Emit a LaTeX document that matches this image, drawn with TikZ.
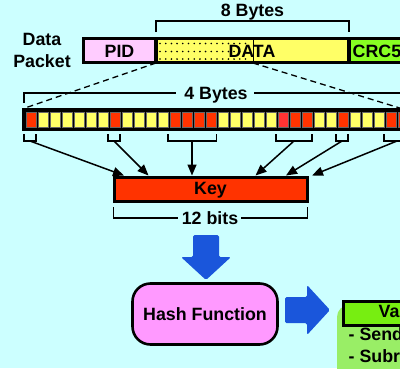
\documentclass[tikz,border=0pt]{standalone}
\usepackage{fontspec}
\setmainfont{Liberation Sans}
\usetikzlibrary{arrows.meta}
\definecolor{bg}{HTML}{CCFFFF}
\definecolor{pidpink}{HTML}{FFCCFF}
\definecolor{datayel}{HTML}{FFFF66}
\definecolor{crcgreen}{HTML}{88FF22}
\definecolor{bitred}{HTML}{FF3300}
\definecolor{bitred2}{HTML}{FF3333}
\definecolor{hashpink}{HTML}{FF99FF}
\definecolor{arrowblue}{HTML}{1A56DB}
\definecolor{hdrgreen}{HTML}{77EE11}
\definecolor{lightgreen}{HTML}{99EE66}
\begin{document}
\begin{tikzpicture}[x=1pt,y=-1pt,
  lbl/.style={font=\bfseries\fontsize{17.8}{21}\selectfont, inner sep=0pt, anchor=base},
  thickborder/.style={line width=3pt},
  bracket/.style={line width=1.5pt},
  keyarrow/.style={line width=1.5pt, -{Triangle[length=11pt,width=9pt]}},
  dashline/.style={line width=1.3pt, dash pattern=on 6pt off 4pt},
  bigarrow/.style={fill=arrowblue, rounded corners=1.5pt}]
\useasboundingbox (0,0) rectangle (400,368);
\clip (0,0) rectangle (400,368);
\fill[bg] (0,0) rectangle (400,368);

% ---- data packet ----
\node[lbl] (lblData) at (42,45.8) {Data};
\node[lbl] (lblPacket) at (42,67.3) {Packet};
\fill[pidpink] (83,38) rectangle (156,62);
\fill[datayel] (156,38) rectangle (349,62);
\fill[crcgreen] (349,38) rectangle (412,62);
\foreach \y in {43.5,51.5,59} {
  \foreach \x in {160,165.7,...,251} {
    \fill[black] (\x,\y) circle (0.9pt);
  }
}
\draw[line width=0.9pt] (253,38) -- (253,62);
\draw[thickborder] (83,38) rectangle (412,62);
\draw[line width=3.2pt] (156,38) -- (156,62);
\draw[line width=3.2pt] (349,38) -- (349,62);
\node[lbl] (pid) at (119.5,57.3) {PID};
\node[lbl] (data) at (252,57.3) {DATA};
\node[lbl, anchor=base west] (crc) at (352.5,57.3) {CRC5};

% 8 Bytes bracket
\coordinate (b8l) at (156,32);
\coordinate (b8r) at (349,32);
\draw[bracket] (b8l) -- (156,21) -- (349,21) -- (b8r);
\node[lbl] (bytes8) at (252.5,16.3) {8 Bytes};

% ---- bits row ----
\fill[black] (22,108) rectangle (412,131);
\foreach \i in {0,...,31} {
  \pgfmathsetmacro{\xl}{25.7+12*\i}
  \fill[datayel, draw=black!60, line width=0.4pt] (\xl,112.3) rectangle ++(10.6,14.4);
}
\foreach \i in {0,7,12,13,14,15,22,23,26,30,31} {
  \pgfmathsetmacro{\xl}{25.7+12*\i}
  \fill[bitred, draw=black!60, line width=0.4pt] (\xl,112.3) rectangle ++(10.6,14.4);
}
\fill[bitred2, draw=black!60, line width=0.4pt] (277.7,112.3) rectangle ++(10.6,14.4);

% dashed zoom lines
\coordinate (dl0) at (156,63);
\coordinate (dl1) at (25,108);
\coordinate (dr0) at (253,63);
\coordinate (dr1) at (403,109);
\draw[dashline] (dl0) -- (dl1);
\draw[dashline] (dr0) -- (dr1);

% 4 Bytes bracket
\node[lbl] (bytes4) at (216,99) {4 Bytes};
\draw[bracket] (24,103) -- (24,93) -- (176,93);
\draw[bracket] (254,93) -- (412,93);

% ---- key ----
\node[draw=black, fill=bitred, line width=3pt, minimum width=193pt, minimum height=24pt, inner sep=0pt] (key) at (210.5,189) {};
\node[lbl] (keytxt) at (210.5,194.5) {Key};

% bit brackets
\draw[bracket] (24,134) -- (24,141) -- (36,141) -- (36,134);
\draw[bracket] (108,134) -- (108,141) -- (120,141) -- (120,134);
\draw[bracket] (168,134) -- (168,141) -- (216.5,141) -- (216.5,134);
\draw[bracket] (276,134) -- (276,141) -- (312,141) -- (312,134);
\draw[bracket] (336,134) -- (336,141) -- (348,141) -- (348,134);
\draw[bracket] (384,134) -- (384,141) -- (412,141);
\coordinate (g0) at (30,141);
\coordinate (g1) at (114,141);
\coordinate (g2) at (192,141);
\coordinate (g3) at (294,141);
\coordinate (g4) at (342,141);
\coordinate (g5) at (397,141);
\draw[keyarrow] (g0) -- ([xshift=-86.5pt]key.north);
\draw[keyarrow] (g1) -- ([xshift=-62pt]key.north);
\draw[keyarrow] (g2) -- ([xshift=-18.5pt]key.north);
\draw[keyarrow] (g3) -- ([xshift=45pt]key.north);
\draw[keyarrow] (g4) -- ([xshift=75.5pt]key.north);
\draw[keyarrow] (g5) -- ([xshift=101.5pt]key.north);

% 12 bits bracket
\node[lbl] (bits12) at (210,224.2) {12 bits};
\draw[bracket] (113.5,207) -- (113.5,218) -- (178,218);
\draw[bracket] (241,218) -- (307.5,218) -- (307.5,207);

% ---- blue down arrow ----
\path[bigarrow] (193,235) -- (219,235) -- (219,257) -- (231,257) -- (206,280) -- (181,257) -- (193,257) -- cycle;

% ---- hash function ----
\node[draw=black, fill=hashpink, line width=2.6pt, rounded corners=18pt, minimum width=145pt, minimum height=61pt, inner sep=0pt] (hash) at (205,314) {};
\node[lbl] (hashtxt) at (hash.center |- 0,320.5) {Hash Function};

% ---- blue right arrow ----
\path[bigarrow] (285,297) -- (307,297) -- (307,285) -- (330,310) -- (307,335) -- (307,323) -- (285,323) -- cycle;

% ---- valid box ----
\fill[lightgreen, rounded corners=12pt] (337,305) rectangle (420,390);
\node[draw=black, fill=hdrgreen, line width=2.8pt, minimum width=80pt, minimum height=24pt, inner sep=0pt, anchor=north west] (valid) at (342,300) {};
\node[lbl, anchor=base west] (validtxt) at (378.5,317.3) {Va};
\node[lbl, anchor=base west] (send) at (348.5,340.3) {- Send};
\node[lbl, anchor=base west] (subr) at (348.5,362.3) {- Subr};
\end{tikzpicture}
\end{document}
